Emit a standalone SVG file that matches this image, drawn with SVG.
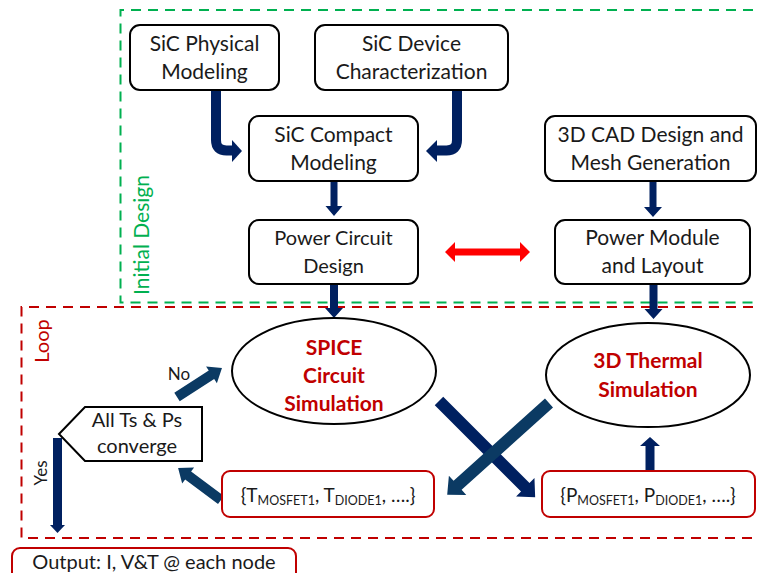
<svg xmlns="http://www.w3.org/2000/svg" width="758" height="573" viewBox="0 0 758 573">
<style>
text{font-family:Lato,"Open Sans","Liberation Sans",sans-serif;fill:#1a1a1a}
.t{font-size:21px;text-anchor:middle}
.t2{font-size:20px;text-anchor:middle}
.sim{font-size:21px;font-weight:bold;fill:#c00000;text-anchor:middle}
.box{fill:#fff;stroke:#000;stroke-width:2}
.rbox{fill:#fff;stroke:#c00000;stroke-width:2}
.navy{fill:#002060}
.teal{fill:#0b3a63}
.sub{font-size:12.5px}
</style>
<rect x="0" y="0" width="758" height="573" fill="#fff"/>
<!-- regions -->
<g id="initial-design-region">
<path d="M770,10 H120.5 V302.5 H770" fill="none" stroke="#00b050" stroke-width="2" stroke-dasharray="10,7"/>
<text transform="translate(149,235) rotate(-90)" style="font-size:21px;fill:#00b050;text-anchor:middle">Initial Design</text>
</g>
<g id="loop-region">
<path d="M770,307 H21.5 V538 H770" fill="none" stroke="#c00000" stroke-width="2" stroke-dasharray="10,7"/>
<text transform="translate(49,341) rotate(-90)" style="font-size:20px;fill:#c00000;text-anchor:middle">Loop</text>
</g>
<!-- connectors -->
<g id="connectors">
<path d="M216,90 V140 Q216,150.5 226.5,150.5 H233" fill="none" stroke="#002060" stroke-width="10"/>
<polygon class="navy" points="232,140 242,151 232,162"/>
<path d="M457,90 V140 Q457,150.5 446.5,150.5 H436" fill="none" stroke="#002060" stroke-width="10"/>
<polygon class="navy" points="437,140 426,151 437,162"/>
<polygon class="navy" points="330.5,181 337.5,181 337.5,206 342.5,206 334,216 325.5,206 330.5,206"/>
<polygon class="navy" points="330,284 338,284 338,308 343,308 334,318 325,308 330,308"/>
<polygon class="navy" points="649.5,181 656.5,181 656.5,207 662,207 653,217 644,207 649.5,207"/>
<polygon class="navy" points="649.5,284 657.5,284 657.5,309 662.5,309 653.5,319 644.5,309 649.5,309"/>
<polygon class="navy" points="645.5,471 654.5,471 654.5,446 660,446 650,437 640,446 645.5,446"/>
<polygon class="navy" points="53,438 62,438 62,525 65,525 57.5,533 50,525 53,525"/>
<polygon fill="#ff0000" points="445,252 455,242 455,248.5 520,248.5 520,242 530,252 520,262 520,255.5 455,255.5 455,262"/>
<!-- X arrows -->
<polygon class="navy" transform="translate(439,401) rotate(45)" points="0,-6 122,-6 122,-13 136,0 122,13 122,6 0,6"/>
<polygon class="teal" transform="translate(549,403) rotate(138)" points="0,-6 123,-6 123,-13 137,0 123,13 123,6 0,6"/>
<!-- No / feedback -->
<polygon class="teal" transform="translate(177,397) rotate(-32.8)" points="0,-5 41,-5 41,-10 53.5,0 41,10 41,5 0,5"/>
<polygon class="teal" transform="translate(221,500) rotate(-143.3)" points="0,-5 41,-5 41,-10 53.5,0 41,10 41,5 0,5"/>
<text x="179" y="380" style="font-size:17px;text-anchor:middle">No</text>
<text transform="translate(47,473) rotate(-90)" style="font-size:17px;text-anchor:middle">Yes</text>
</g>
<!-- nodes -->
<g id="sic-physical">
<rect class="box" x="130" y="25" width="149" height="65" rx="10"/>
<text class="t" x="204.5" y="51">SiC Physical</text>
<text class="t" x="204.5" y="79">Modeling</text>
</g>
<g id="sic-device">
<rect class="box" x="315" y="25" width="193" height="65" rx="10"/>
<text class="t" x="411.5" y="51">SiC Device</text>
<text class="t" x="411.5" y="79">Characterization</text>
</g>
<g id="sic-compact">
<rect class="box" x="249" y="116" width="169" height="65" rx="10"/>
<text class="t" x="333.5" y="142">SiC Compact</text>
<text class="t" x="333.5" y="170">Modeling</text>
</g>
<g id="cad-mesh">
<rect class="box" x="545" y="116" width="211" height="65" rx="10"/>
<text class="t" x="650.5" y="142">3D CAD Design and</text>
<text class="t" x="650.5" y="170">Mesh Generation</text>
</g>
<g id="power-circuit">
<rect class="box" x="249" y="220" width="169" height="64" rx="10"/>
<text class="t2" x="333.5" y="245">Power Circuit</text>
<text class="t2" x="333.5" y="273">Design</text>
</g>
<g id="power-module">
<rect class="box" x="555" y="220" width="195" height="64" rx="10"/>
<text class="t" x="652.5" y="245">Power Module</text>
<text class="t" x="652.5" y="273">and Layout</text>
</g>
<g id="spice-sim">
<ellipse class="box" cx="334" cy="371" rx="102" ry="53"/>
<text class="sim" x="334" y="355">SPICE</text>
<text class="sim" x="334" y="383">Circuit</text>
<text class="sim" x="334" y="411">Simulation</text>
</g>
<g id="thermal-sim">
<ellipse class="box" cx="648" cy="375" rx="102" ry="52"/>
<text class="sim" x="648" y="368">3D Thermal</text>
<text class="sim" x="648" y="397">Simulation</text>
</g>
<g id="converge">
<polygon class="box" points="59,434 85,407 202,407 202,461 85,461"/>
<text class="t2" x="137" y="427">All Ts &amp; Ps</text>
<text class="t2" x="137" y="453">converge</text>
</g>
<g id="t-values">
<rect class="rbox" x="222" y="471" width="212" height="46" rx="8"/>
<text x="328" y="502" style="font-size:19px;text-anchor:middle">{T<tspan class="sub" dy="3">MOSFET1</tspan><tspan dy="-3">, T</tspan><tspan class="sub" dy="3">DIODE1</tspan><tspan dy="-3">, ….}</tspan></text>
</g>
<g id="p-values">
<rect class="rbox" x="542" y="471" width="213" height="46" rx="8"/>
<text x="648" y="502" style="font-size:19px;text-anchor:middle">{P<tspan class="sub" dy="3">MOSFET1</tspan><tspan dy="-3">, P</tspan><tspan class="sub" dy="3">DIODE1</tspan><tspan dy="-3">, ….}</tspan></text>
</g>
<g id="output">
<rect class="rbox" x="12" y="548" width="284" height="40" rx="8"/>
<text class="t2" x="154" y="569">Output: I, V&amp;T @ each node</text>
</g>
</svg>
